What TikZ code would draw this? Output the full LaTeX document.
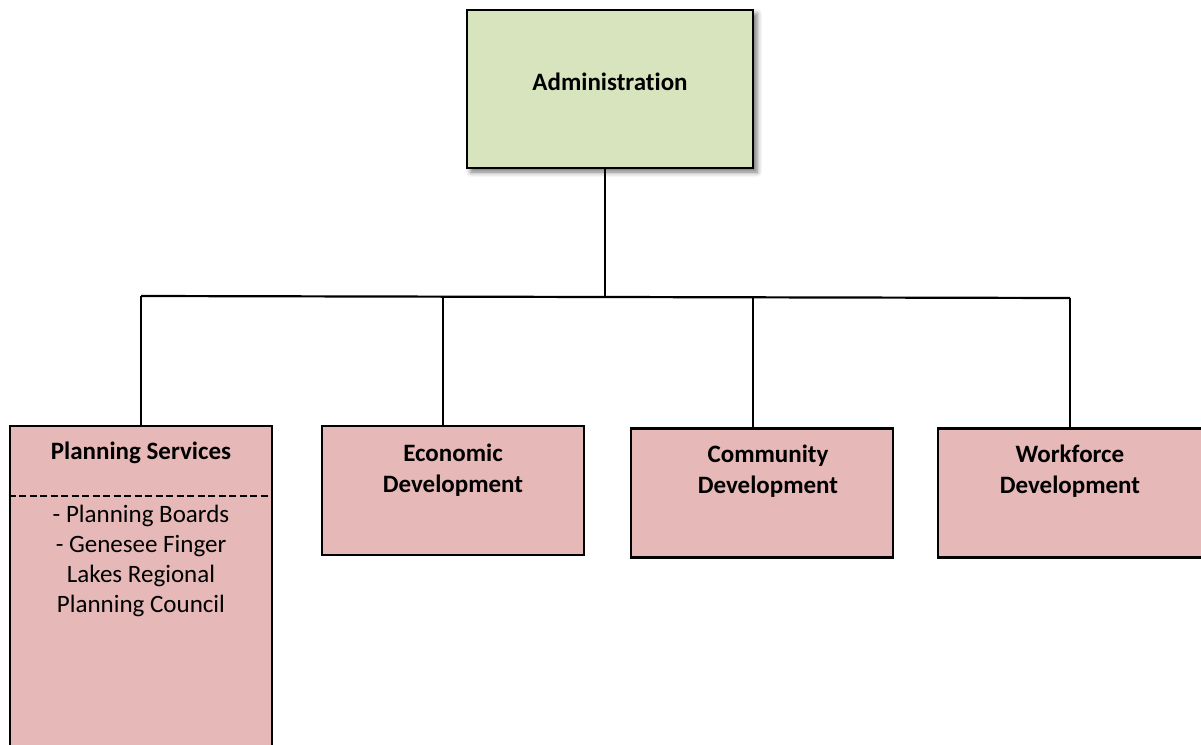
\documentclass[tikz,border=0pt]{standalone}
\usepackage{fontspec}
\setmainfont{Carlito}[Ligatures={NoCommon,NoContextual}, Contextuals=NoAlternate]
\usetikzlibrary{shadows.blur, positioning}
\definecolor{adminfill}{HTML}{D7E4BD}
\definecolor{unitfill}{HTML}{E6B8B7}
\tikzstyle{box}     = [draw, line width=2.6pt, rectangle, inner sep=0pt]
\tikzstyle{unit}    = [box, fill=unitfill, minimum width=262pt, minimum height=129pt]
\tikzstyle{title}   = [font=\fontsize{25}{31}\selectfont\bfseries, align=center]
\tikzstyle{items}   = [font=\fontsize{25}{30}\selectfont, align=center]
\tikzstyle{edge}    = [line width=2.2pt]
\tikzstyle{divider} = [line width=2.2pt, dash pattern=on 7pt off 3.5pt]

\begin{document}
\begin{tikzpicture}[x=1pt, y=-1pt]
\useasboundingbox (0,0) rectangle (1201,744);

% vedení
\node[box, fill=adminfill, minimum width=286pt, minimum height=158pt,
      blur shadow={shadow xshift=4pt, shadow yshift=-4pt, shadow blur radius=5pt, shadow opacity=55}]
      (admin) at (610,89) {};
\node[title] (admin-t) at (610,82) {Administrat\kern0pt ion};

% oddělení
\node[unit, minimum height=330pt] (plan) at (141,591) {};
\node[unit]                       (econ) at (453,490.5) {};
\node[unit]                       (comm) at (762,493) {};
\node[unit, minimum width=266pt]  (work) at (1071,493) {};

% texty oddělení
\node[title] (plan-t) at (141,453) {Planning Services};
\node[title] (econ-t) at (453,470) {Economic\\Development};
\node[title] (comm-t) at (768,471.5) {Community\\Development};
\node[title] (work-t) at (1070,471.5) {Workforce\\Development};
\node[items] (plan-i) at (141,561) {- Planning Boards\\- Genesee Finger\\Lakes Regional\\Planning Council};
\draw[divider] ([yshift=-71pt]plan.north west) -- ([yshift=-71pt]plan.north east);

% spojnice
\coordinate (hub) at (605,298);
\coordinate (j1) at (141,296);
\coordinate (j2) at (443,296);
\coordinate (j3) at (753,298);
\coordinate (j4) at (1070,298);
\draw[edge] (hub |- admin.south) -- (hub);
\draw[edge] (j1) -- (j4);
\draw[edge] (j1) -- (j1 |- plan.north);
\draw[edge] (j2) -- (j2 |- econ.north);
\draw[edge] (j3) -- (j3 |- comm.north);
\draw[edge] (j4) -- (j4 |- work.north);

\end{tikzpicture}
\end{document}
